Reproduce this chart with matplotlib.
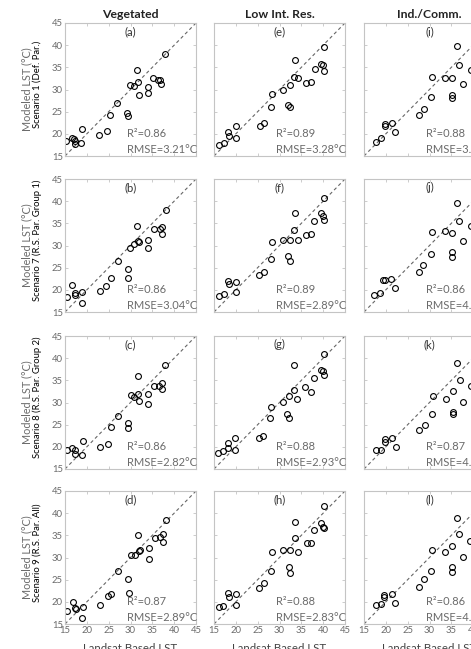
import matplotlib
matplotlib.use("Agg")
import matplotlib.pyplot as plt

plt.rcParams["font.family"] = ["Lato", "DejaVu Sans"]

# ── Data ─────────────────────────────────────────────────────────────────────
columns = ["Vegetated", "Low Int. Res.", "Ind./Comm."]
scenarios = [
    "Scenario 1 (Def. Par.)",
    "Scenario 7 (R.S. Par. Group 1)",
    "Scenario 8 (R.S. Par. Group 2)",
    "Scenario 9 (R.S. Par. All)",
]
letters = [["(a)", "(e)", "(i)"], ["(b)", "(f)", "(j)"],
           ["(c)", "(g)", "(k)"], ["(d)", "(h)", "(l)"]]
r2 = [[0.86, 0.89, 0.88], [0.86, 0.89, 0.86],
      [0.86, 0.88, 0.87], [0.87, 0.88, 0.86]]
rmse = [[3.21, 3.28, 3.95], [3.04, 2.89, 4.13],
        [2.82, 2.93, 4.52], [2.89, 2.83, 4.57]]
ticks = [15, 20, 25, 30, 35, 40, 45]

veg_s1_x = [15.2, 16.6, 17.0, 17.2, 17.4, 18.6, 18.9, 22.8, 24.6, 25.2, 26.9, 29.3, 29.4,
            29.8, 30.8, 31.5, 31.7, 31.9, 33.9, 34.0, 35.1, 36.4, 36.8, 36.9, 37.9]
veg_s1_y = [18.45, 19.1, 18.9, 18.4, 17.7, 17.85, 21.0, 19.7, 20.6, 24.2, 26.9, 24.8, 24.0,
            31.1, 30.9, 34.4, 31.7, 28.7, 30.5, 29.3, 32.7, 32.1, 32.1, 31.3, 37.9]
low_s1_x = [16.2, 17.3, 18.3, 18.4, 20.0, 20.1, 25.5, 26.4, 28.1, 28.3, 30.9, 32.3, 32.0,
            32.3, 33.3, 33.6, 34.2, 36.1, 37.2, 38.1, 40.2, 39.5, 40.0, 40.2]
low_s1_y = [17.5, 18.0, 20.5, 19.6, 21.8, 19.0, 21.75, 22.35, 26.1, 28.9, 29.85, 31.0, 26.6,
            25.95, 32.85, 36.6, 32.5, 31.5, 31.8, 34.7, 39.6, 35.85, 35.5, 34.1]
ind_s1_x = [17.65, 18.8, 19.7, 19.7, 21.4, 22.2, 27.7, 28.7, 30.45, 30.6, 33.6, 35.2, 35.2,
            35.2, 36.2, 36.8, 37.7, 39.4]
ind_s1_y = [18.2, 19.0, 22.2, 21.75, 22.5, 20.5, 24.2, 25.6, 28.35, 32.85, 32.7, 32.7, 28.7,
            28.0, 39.75, 35.6, 31.35, 34.5]

veg_s7_x = [15.4, 16.7, 17.2, 17.4, 18.9, 18.8, 23.0, 24.5, 25.5, 27.1, 29.4, 29.5, 29.85,
            30.8, 31.5, 31.7, 32.0, 34.1, 34.1, 35.45, 36.7, 37.2, 37.2, 38.1]
veg_s7_y = [18.4, 21.2, 19.35, 18.8, 19.5, 17.0, 19.7, 20.85, 22.6, 26.6, 24.8, 22.6, 29.5,
            30.4, 34.35, 31.1, 30.8, 31.35, 29.5, 33.75, 33.8, 34.2, 32.5, 37.9]
low_s7_x = [16.2, 17.3, 18.3, 18.4, 20.0, 20.1, 25.4, 26.4, 28.0, 28.3, 30.8, 32.3, 32.0,
            32.3, 33.3, 33.6, 34.3, 36.1, 37.2, 38.0, 40.2, 39.5, 40.0, 40.2]
low_s7_y = [18.6, 19.0, 22.0, 21.4, 21.8, 19.5, 23.25, 24.0, 26.85, 30.75, 31.35, 31.35, 27.6,
            26.5, 33.6, 37.35, 31.35, 32.3, 32.7, 35.6, 40.7, 37.35, 36.6, 35.85]
ind_s7_x = [17.4, 18.6, 19.4, 19.7, 21.2, 22.0, 27.6, 28.6, 30.3, 30.5, 33.6, 35.2, 35.2,
            35.2, 36.2, 36.7, 37.6, 39.5]
ind_s7_y = [18.75, 19.35, 22.2, 22.2, 22.5, 20.5, 24.0, 25.5, 28.0, 33.1, 33.2, 32.85, 28.5,
            27.45, 39.6, 35.5, 31.0, 34.35]

veg_s8_x = [15.45, 16.7, 17.3, 17.4, 18.8, 19.2, 23.0, 24.8, 25.45, 27.1, 29.5, 29.5, 30.0,
            30.9, 31.7, 31.8, 32.0, 34.0, 34.0, 35.45, 36.6, 37.1, 37.2, 38.0]
veg_s8_y = [19.3, 19.8, 19.3, 18.3, 18.15, 21.3, 20.0, 20.55, 24.5, 27.0, 25.4, 24.15, 31.65,
            31.3, 35.9, 32.0, 30.3, 32.0, 29.55, 33.7, 33.7, 34.3, 33.15, 38.55]
low_s8_x = [16.0, 17.1, 18.1, 18.3, 19.8, 19.9, 25.2, 26.3, 27.8, 28.1, 30.8, 32.2, 31.8,
            32.1, 33.3, 33.4, 34.1, 35.9, 37.2, 38.0, 40.2, 39.5, 40.0, 40.2]
low_s8_y = [18.7, 19.0, 20.8, 19.65, 22.1, 19.3, 22.05, 22.5, 26.6, 28.9, 30.2, 31.4, 27.3,
            26.4, 32.9, 38.4, 30.9, 33.5, 32.4, 35.6, 40.9, 37.3, 37.1, 36.2]
ind_s8_x = [17.65, 18.9, 19.7, 19.7, 21.4, 22.3, 27.7, 28.9, 30.5, 30.75, 33.7, 35.3, 35.3,
            35.3, 36.3, 36.9, 37.7, 39.5]
ind_s8_y = [19.3, 19.3, 21.7, 21.15, 21.9, 19.95, 23.8, 24.9, 27.5, 31.5, 30.9, 32.55, 27.9,
            27.4, 38.9, 35.0, 30.15, 33.7]

veg_s9_x = [15.45, 16.75, 17.3, 17.5, 19.2, 18.9, 23.1, 24.8, 25.5, 27.2, 29.5, 29.6, 30.0,
            31.0, 31.8, 31.9, 32.2, 34.2, 34.2, 35.6, 36.7, 37.4, 37.4, 38.1]
veg_s9_y = [17.9, 20.0, 18.5, 18.3, 18.8, 16.4, 19.2, 21.3, 21.8, 27.0, 25.1, 21.9, 30.6,
            30.6, 35.1, 31.5, 31.7, 32.1, 29.7, 34.3, 34.7, 35.2, 33.6, 38.5]
low_s9_x = [16.1, 17.1, 18.2, 18.4, 20.0, 20.05, 25.4, 26.45, 28.0, 28.3, 30.9, 32.4, 32.1,
            32.4, 33.5, 33.6, 34.3, 36.2, 37.3, 38.0, 40.2, 39.5, 40.0, 40.2]
low_s9_y = [18.9, 19.1, 21.9, 21.15, 21.7, 19.3, 23.2, 24.2, 27.0, 31.3, 31.7, 31.8, 27.9,
            26.6, 34.3, 37.9, 31.2, 33.2, 33.2, 36.2, 41.6, 37.85, 36.95, 36.6]
ind_s9_x = [17.65, 18.8, 19.6, 19.6, 21.3, 22.1, 27.7, 28.7, 30.45, 30.6, 33.6, 35.2, 35.2,
            35.2, 36.2, 36.8, 37.65, 39.3]
ind_s9_y = [19.3, 19.45, 21.5, 21.15, 21.7, 19.7, 23.3, 25.2, 27.0, 31.7, 31.3, 32.6, 27.8,
            26.8, 39.0, 35.2, 30.2, 33.7]

panels = [
    [(veg_s1_x, veg_s1_y), (low_s1_x, low_s1_y), (ind_s1_x, ind_s1_y)],
    [(veg_s7_x, veg_s7_y), (low_s7_x, low_s7_y), (ind_s7_x, ind_s7_y)],
    [(veg_s8_x, veg_s8_y), (low_s8_x, low_s8_y), (ind_s8_x, ind_s8_y)],
    [(veg_s9_x, veg_s9_y), (low_s9_x, low_s9_y), (ind_s9_x, ind_s9_y)],
]

# ── Layout (pixels) ──────────────────────────────────────────────────────────
W, H = 471, 649
col_left = [65, 214, 364]
row_top = [23, 179, 336, 491]
AX_W, AX_H = 131, 133
GREY = "#6b6b6b"
SPINE = "#c4c4c4"

fig = plt.figure(figsize=(W / 100, H / 100), dpi=100)
fig.patch.set_facecolor("white")

for r in range(4):
    for c in range(3):
        rect = [col_left[c] / W, (H - row_top[r] - AX_H) / H, AX_W / W, AX_H / H]
        ax = fig.add_axes(rect)
        x, y = panels[r][c]
        ax.plot([15, 45], [15, 45], ls=(0, (3, 2.5)), color="#666666", lw=0.8, zorder=1)
        ax.plot(x, y, ls="none", marker="o", ms=4.2, mfc="none", mec="black", mew=0.8, zorder=2)
        ax.set_xlim(15, 45)
        ax.set_ylim(15, 45)
        ax.set_xticks(ticks)
        ax.set_yticks(ticks)
        ax.tick_params(direction="in", length=2.5, width=0.6, color=SPINE,
                       labelsize=6.8, labelcolor=GREY, top=True, right=True, pad=1.5)
        if c != 0:
            ax.set_yticklabels([])
        if r != 3:
            ax.set_xticklabels([])
        for s in ax.spines.values():
            s.set_color(SPINE)
            s.set_linewidth(0.8)
        ax.text(30, 43.1, letters[r][c], ha="center", va="center", fontsize=8.2, color="#333333")
        ax.text(29.1, 20.0, f"R²={r2[r][c]:.2f}", ha="left", va="center", fontsize=8.0, color=GREY)
        ax.text(29.1, 16.5, f"RMSE={rmse[r][c]:.2f}°C", ha="left", va="center", fontsize=8.0, color=GREY)
        if r == 0:
            fig.text((col_left[c] + AX_W / 2) / W, 1 - 14 / H, columns[c], ha="center", va="center",
                     fontsize=8.8, fontweight="bold", color="#222222")
        if r == 3:
            fig.text((col_left[c] + AX_W / 2) / W, 1 - 648 / H, "Landsat Based LST", ha="center",
                     va="center", fontsize=8.3, color="#444444")
    yc = 1 - (row_top[r] + AX_H / 2) / H
    fig.text(27 / W, yc, "Modeled LST (°C)", rotation=90, ha="center", va="center",
             fontsize=7.8, color=GREY)
    fig.text(37.5 / W, yc + 5 / H, scenarios[r], rotation=90, ha="center", va="center",
             fontsize=6.8, color="black")

fig.savefig("out.png", dpi=100)
